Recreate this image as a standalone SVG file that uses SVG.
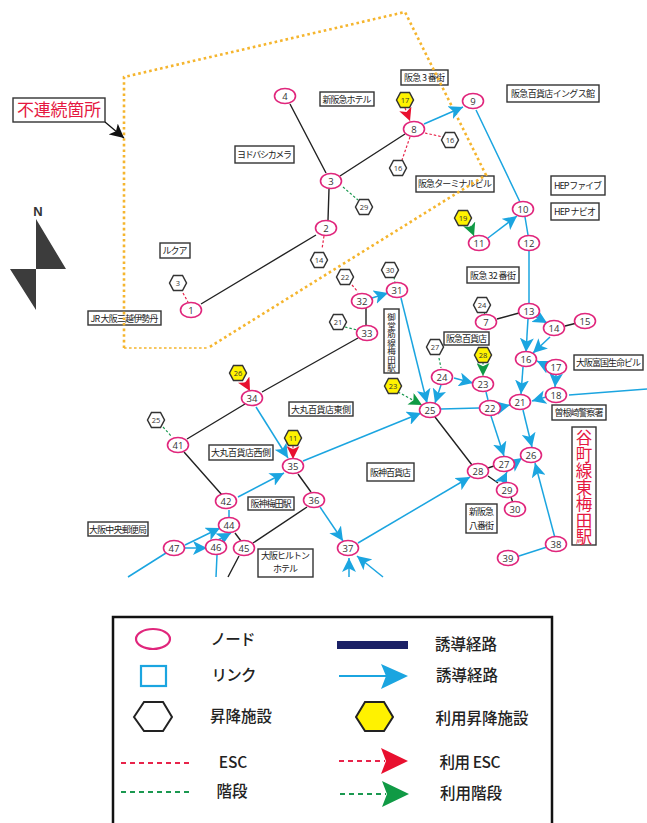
<svg xmlns="http://www.w3.org/2000/svg" width="647" height="823" viewBox="0 0 647 823">
<style>
text{font-family:"Noto Sans CJK JP","Noto Sans",sans-serif;fill:#222}
.box{fill:#fff;stroke:#333;stroke-width:1.4}
.lb{font-size:9px;text-anchor:middle}
.n{fill:#fff;stroke:#e0267c;stroke-width:1.6}
.nt{font-family:"Open Sans","Liberation Sans",sans-serif;font-size:9.5px;text-anchor:middle;fill:#333}
.h{fill:#fff;stroke:#333;stroke-width:1.5}
.hy{fill:#fff200;stroke:#333;stroke-width:1.5}
.ht{font-family:"Open Sans","Liberation Sans",sans-serif;font-size:7.5px;text-anchor:middle;fill:#333}
.k{stroke:#222;stroke-width:1.4;fill:none}
.b{stroke:#1ba5e0;stroke-width:1.5;fill:none}
.ba{stroke:#1ba5e0;stroke-width:1.5;fill:none;marker-end:url(#ab)}
.r{stroke:#e8234a;stroke-width:1.2;stroke-dasharray:2.5 2;fill:none}
.g{stroke:#1a9850;stroke-width:1.2;stroke-dasharray:2.5 2;fill:none}
.ra{stroke:#e8234a;stroke-width:1.2;stroke-dasharray:2.5 2;fill:none;marker-end:url(#ar)}
.ga{stroke:#1a9850;stroke-width:1.2;stroke-dasharray:2.5 2;fill:none;marker-end:url(#ag)}
.lt{font-size:15.500px;font-weight:500;text-anchor:middle;fill:#222}
</style>
<defs>
<marker id="ab" viewBox="0 0 12 12" markerUnits="userSpaceOnUse" markerWidth="14" markerHeight="14" refX="12" refY="6" orient="auto"><path d="M0 0L12 6L0 12L3 6z" fill="#1ba5e0"/></marker>
<marker id="ar" viewBox="0 0 12 12" markerUnits="userSpaceOnUse" markerWidth="13" markerHeight="13" refX="12" refY="6" orient="auto"><path d="M0 0L12 6L0 12L3 6z" fill="#e8102f"/></marker>
<marker id="ag" viewBox="0 0 12 12" markerUnits="userSpaceOnUse" markerWidth="13" markerHeight="13" refX="12" refY="6" orient="auto"><path d="M0 0L12 6L0 12L3 6z" fill="#109a45"/></marker>
<marker id="ak" viewBox="0 0 12 12" markerUnits="userSpaceOnUse" markerWidth="14" markerHeight="14" refX="12" refY="6" orient="auto"><path d="M0 0L12 6L0 12L3 6z" fill="#111"/></marker>
<polygon id="hx" points="-8.5,0 -4.5,-7.5 4.5,-7.5 8.5,0 4.5,7.5 -4.5,7.5"/>
</defs>

<g id="labels">
<g id="l-shinhankyu-hotel"><rect class="box" x="320" y="92" width="54" height="14"/><text class="lb" x="347" y="102.500" textLength="49">新阪急ホテル</text></g>
<g id="l-hankyu3"><rect class="box" x="401" y="70" width="47" height="15"/><text class="lb" x="424.500" y="80.500" textLength="41">阪急 3 番街</text></g>
<g id="l-ings"><rect class="box" x="507" y="85" width="92" height="17"/><text class="lb" x="553" y="96.500" textLength="84">阪急百貨店イングス館</text></g>
<g id="l-yodobashi"><rect class="box" x="235" y="146" width="59" height="17"/><text class="lb" x="264.500" y="157.500" textLength="55">ヨドバシカメラ</text></g>
<g id="l-terminal"><rect class="box" x="416" y="176" width="78" height="16"/><text class="lb" x="455" y="187" textLength="74">阪急ターミナルビル</text></g>
<g id="l-hepfive"><rect class="box" x="551" y="176" width="54" height="19"/><text class="lb" x="578" y="189" textLength="48">HEP ファイブ</text></g>
<g id="l-hepnavio"><rect class="box" x="551" y="203" width="48" height="17"/><text class="lb" x="575" y="214.500" textLength="42">HEP ナビオ</text></g>
<g id="l-lucua"><rect class="box" x="160" y="243" width="30" height="15"/><text class="lb" x="175" y="254" textLength="25">ルクア</text></g>
<g id="l-hankyu32"><rect class="box" x="467" y="267" width="52" height="16"/><text class="lb" x="493" y="278.500" textLength="46">阪急 32 番街</text></g>
<g id="l-jr"><rect class="box" x="88" y="311" width="73" height="14"/><text class="lb" x="124.500" y="321.500" textLength="68">JR 大阪三越伊勢丹</text></g>
<g id="l-midosuji"><rect class="box" x="384" y="309" width="15" height="64"/><text class="lb" x="391.500 391.500 391.500 391.500 391.500 391.500 391.500" y="320 328.600 337.200 345.800 354.400 363 371" style="font-size:8.500px">御堂筋線梅田駅</text></g>
<g id="l-hankyudept"><rect class="box" x="444" y="332" width="45" height="13"/><text class="lb" x="466.500" y="342" textLength="41">阪急百貨店</text></g>
<g id="l-fukoku"><rect class="box" x="574" y="355" width="69" height="15"/><text class="lb" x="608.500" y="366" textLength="65">大阪富国生命ビル</text></g>
<g id="l-sonezaki"><rect class="box" x="552" y="405" width="54" height="15"/><text class="lb" x="579" y="416" textLength="49">曽根崎警察署</text></g>
<g id="l-tanimachi"><rect class="box" x="572" y="427" width="24" height="118"/><text x="584 584 584 584 584 584 584" y="444 460.500 477 493.500 510 526.500 543" style="font-size:16.500px;text-anchor:middle;fill:#e5173f">谷町線東梅田駅</text></g>
<g id="l-daimaru-e"><rect class="box" x="289" y="402" width="64" height="14"/><text class="lb" x="321" y="412.500" textLength="60">大丸百貨店東側</text></g>
<g id="l-hanshin"><rect class="box" x="367" y="463" width="47" height="18"/><text class="lb" x="390.500" y="475.500" textLength="41">阪神百貨店</text></g>
<g id="l-shinhankyu8"><rect class="box" x="466" y="504" width="31" height="29"/><text class="lb" x="481.500" y="514.500" textLength="25">新阪急</text><text class="lb" x="481.500" y="528.500" textLength="25">八番街</text></g>
<g id="l-daimaru-w"><rect class="box" x="209" y="445" width="64" height="15"/><text class="lb" x="241" y="456" textLength="60">大丸百貨店西側</text></g>
<g id="l-hanshinumeda"><rect class="box" x="248" y="497" width="46" height="13"/><text class="lb" x="271" y="507" textLength="41">阪神梅田駅</text></g>
<g id="l-post"><rect class="box" x="88" y="522" width="60" height="14"/><text class="lb" x="118" y="532.500" textLength="58">大阪中央郵便局</text></g>
<g id="l-hilton"><rect class="box" x="258" y="549" width="55" height="28"/><text class="lb" x="285.500" y="558.500" textLength="49">大阪ヒルトン</text><text class="lb" x="285.500" y="572" textLength="25">ホテル</text></g>
</g>

<g id="discontinuity">
<path d="M124 348V77L405 12L486 175L208 348" fill="none" stroke="#f5b52e" stroke-width="2.600" stroke-dasharray="2.600 3"/>
<path d="M124 348H208" fill="none" stroke="#f5b52e" stroke-width="1.500" stroke-dasharray="2.600 2.400"/>
</g>
<g id="callout">
<rect class="box" x="13" y="98" width="92" height="24"/>
<text x="59" y="116" style="font-size:17px;text-anchor:middle;fill:#e5173f" textLength="84">不連続箇所</text>
<line x1="105" y1="122" x2="124" y2="138" stroke="#111" stroke-width="1.200" marker-end="url(#ak)"/>
</g>
<g id="north">
<text x="38" y="216" style="font-family:'Liberation Sans',sans-serif;font-size:13px;font-weight:bold;text-anchor:middle;fill:#333">N</text>
<path d="M36 219L66 269H36zM10 269H36V310z" fill="#3c3c3c"/>
</g>

<g id="connectors">
<path class="k" d="M201 304L316 235M328 220L329 189M326 173L290 104M340 176L405 134M497 319L519 313M577 323L565 326M366 308V327M358 338L262 392M245 404L187 439M184 452L222 495M235 533L241 541M239 556L228 577M253 543L307 507M298 474L311 492M435 417L472 465M488 468L494 466M488 476L498 483M511 497L513 503"/>
<path class="b" d="M476 110L520 202M525 217L528 235M529 251V303M569 395L647 389M486 392L488 400M441 409L479 408M519 556L547 547M229 510V518M128 577L166 553M217 555L216 577"/>
<g>
<line class="ba" x1="424" y1="124" x2="463" y2="107"/>
<line class="ba" x1="488" y1="238" x2="517" y2="216"/>
<line class="ba" x1="535" y1="316" x2="547" y2="323"/>
<line class="ba" x1="550" y1="337" x2="533" y2="353"/>
<line class="ba" x1="528" y1="319" x2="526" y2="352"/>
<line class="ba" x1="547" y1="366" x2="537" y2="361"/>
<line class="ba" x1="556" y1="375" x2="555" y2="387"/>
<line class="ba" x1="546" y1="397" x2="532" y2="401"/>
<line class="ba" x1="523" y1="367" x2="521" y2="394"/>
<line class="ba" x1="523" y1="410" x2="532" y2="447"/>
<line class="ba" x1="501" y1="407" x2="510" y2="405"/>
<line class="ba" x1="491" y1="416" x2="504" y2="456"/>
<line class="ba" x1="454" y1="378" x2="473" y2="383"/>
<line class="ba" x1="441" y1="385" x2="435" y2="403"/>
<line class="ba" x1="401" y1="298" x2="427" y2="403"/>
<line class="ba" x1="372" y1="298" x2="388" y2="293"/>
<line class="ba" x1="515" y1="463" x2="522" y2="458"/>
<line class="ba" x1="502" y1="482" x2="507" y2="472"/>
<line class="ba" x1="555" y1="538" x2="535" y2="463"/>
<line class="ba" x1="358" y1="543" x2="470" y2="477"/>
<line class="ba" x1="303" y1="461" x2="421" y2="413"/>
<line class="ba" x1="256" y1="407" x2="288" y2="458"/>
<line class="ba" x1="238" y1="497" x2="284" y2="473"/>
<line class="ba" x1="218" y1="540" x2="231" y2="533"/>
<line class="ba" x1="185" y1="545" x2="220" y2="528"/>
<line class="ba" x1="185" y1="548" x2="207" y2="548"/>
<line class="ba" x1="320" y1="507" x2="343" y2="541"/>
<line class="ba" x1="349" y1="577" x2="349" y2="558"/>
<line class="ba" x1="383" y1="577" x2="357" y2="556"/>
</g>
<path class="r" d="M183 293L188 302M324 236L322 249M410 137L402 160M425 133L443 137M352 285L358 292"/>
<path class="g" d="M343 187L358 200M394 277L395 283M345 327L357 330M484 312L485 315M439 358L441 368M163 427L172 437"/>
<line class="ra" x1="405" y1="108" x2="410" y2="121"/>
<line class="ra" x1="293" y1="446" x2="293" y2="459"/>
<line class="ra" x1="245" y1="382" x2="250" y2="391"/>
<line class="ga" x1="470" y1="226" x2="474" y2="236"/>
<line class="ga" x1="483" y1="362" x2="483" y2="376"/>
<line class="ga" x1="398" y1="392" x2="422" y2="405"/>
</g>

<g id="nodes">
<g id="n1"><ellipse class="n" cx="191" cy="310" rx="10.500" ry="7.500"/><text class="nt" x="191" y="313.500">1</text></g>
<g id="n2"><ellipse class="n" cx="326" cy="228" rx="10.500" ry="7.500"/><text class="nt" x="326" y="231.500">2</text></g>
<g id="n3"><ellipse class="n" cx="331" cy="181" rx="10.500" ry="7.500"/><text class="nt" x="331" y="184.500">3</text></g>
<g id="n4"><ellipse class="n" cx="285" cy="96" rx="10.500" ry="7.500"/><text class="nt" x="285" y="99.500">4</text></g>
<g id="n7"><ellipse class="n" cx="486" cy="322" rx="10.500" ry="7.500"/><text class="nt" x="486" y="325.500">7</text></g>
<g id="n8"><ellipse class="n" cx="414" cy="129" rx="10.500" ry="7.500"/><text class="nt" x="414" y="132.500">8</text></g>
<g id="n9"><ellipse class="n" cx="473" cy="101" rx="10.500" ry="7.500"/><text class="nt" x="473" y="104.500">9</text></g>
<g id="n10"><ellipse class="n" cx="523" cy="209" rx="10.500" ry="7.500"/><text class="nt" x="523" y="212.500">10</text></g>
<g id="n11"><ellipse class="n" cx="479" cy="243" rx="10.500" ry="7.500"/><text class="nt" x="479" y="246.500">11</text></g>
<g id="n12"><ellipse class="n" cx="529" cy="243" rx="10.500" ry="7.500"/><text class="nt" x="529" y="246.500">12</text></g>
<g id="n13"><ellipse class="n" cx="529" cy="311" rx="10.500" ry="7.500"/><text class="nt" x="529" y="314.500">13</text></g>
<g id="n14"><ellipse class="n" cx="554" cy="328" rx="10.500" ry="7.500"/><text class="nt" x="554" y="331.500">14</text></g>
<g id="n15"><ellipse class="n" cx="585" cy="321" rx="10.500" ry="7.500"/><text class="nt" x="585" y="324.500">15</text></g>
<g id="n16"><ellipse class="n" cx="526" cy="359" rx="10.500" ry="7.500"/><text class="nt" x="526" y="362.500">16</text></g>
<g id="n17"><ellipse class="n" cx="556" cy="367" rx="10.500" ry="7.500"/><text class="nt" x="556" y="370.500">17</text></g>
<g id="n18"><ellipse class="n" cx="556" cy="395" rx="10.500" ry="7.500"/><text class="nt" x="556" y="398.500">18</text></g>
<g id="n21"><ellipse class="n" cx="520" cy="402" rx="10.500" ry="7.500"/><text class="nt" x="520" y="405.500">21</text></g>
<g id="n22"><ellipse class="n" cx="490" cy="408" rx="10.500" ry="7.500"/><text class="nt" x="490" y="411.500">22</text></g>
<g id="n23"><ellipse class="n" cx="483" cy="384" rx="10.500" ry="7.500"/><text class="nt" x="483" y="387.500">23</text></g>
<g id="n24"><ellipse class="n" cx="442" cy="377" rx="10.500" ry="7.500"/><text class="nt" x="442" y="380.500">24</text></g>
<g id="n25"><ellipse class="n" cx="430" cy="410" rx="10.500" ry="7.500"/><text class="nt" x="430" y="413.500">25</text></g>
<g id="n26"><ellipse class="n" cx="531" cy="455" rx="10.500" ry="7.500"/><text class="nt" x="531" y="458.500">26</text></g>
<g id="n27"><ellipse class="n" cx="504" cy="464" rx="10.500" ry="7.500"/><text class="nt" x="504" y="467.500">27</text></g>
<g id="n28"><ellipse class="n" cx="478" cy="471" rx="10.500" ry="7.500"/><text class="nt" x="478" y="474.500">28</text></g>
<g id="n29"><ellipse class="n" cx="507" cy="490" rx="10.500" ry="7.500"/><text class="nt" x="507" y="493.500">29</text></g>
<g id="n30"><ellipse class="n" cx="515" cy="509" rx="10.500" ry="7.500"/><text class="nt" x="515" y="512.500">30</text></g>
<g id="n31"><ellipse class="n" cx="397" cy="290" rx="10.500" ry="7.500"/><text class="nt" x="397" y="293.500">31</text></g>
<g id="n32"><ellipse class="n" cx="362" cy="301" rx="10.500" ry="7.500"/><text class="nt" x="362" y="304.500">32</text></g>
<g id="n33"><ellipse class="n" cx="367" cy="333" rx="10.500" ry="7.500"/><text class="nt" x="367" y="336.500">33</text></g>
<g id="n34"><ellipse class="n" cx="252" cy="398" rx="10.500" ry="7.500"/><text class="nt" x="252" y="401.500">34</text></g>
<g id="n35"><ellipse class="n" cx="293" cy="466" rx="10.500" ry="7.500"/><text class="nt" x="293" y="469.500">35</text></g>
<g id="n36"><ellipse class="n" cx="314" cy="500" rx="10.500" ry="7.500"/><text class="nt" x="314" y="503.500">36</text></g>
<g id="n37"><ellipse class="n" cx="348" cy="548" rx="10.500" ry="7.500"/><text class="nt" x="348" y="551.500">37</text></g>
<g id="n38"><ellipse class="n" cx="556" cy="544" rx="10.500" ry="7.500"/><text class="nt" x="556" y="547.500">38</text></g>
<g id="n39"><ellipse class="n" cx="508" cy="558" rx="10.500" ry="7.500"/><text class="nt" x="508" y="561.500">39</text></g>
<g id="n41"><ellipse class="n" cx="178" cy="445" rx="10.500" ry="7.500"/><text class="nt" x="178" y="448.500">41</text></g>
<g id="n42"><ellipse class="n" cx="226" cy="501" rx="10.500" ry="7.500"/><text class="nt" x="226" y="504.500">42</text></g>
<g id="n44"><ellipse class="n" cx="229" cy="525" rx="10.500" ry="7.500"/><text class="nt" x="229" y="528.500">44</text></g>
<g id="n45"><ellipse class="n" cx="244" cy="548" rx="10.500" ry="7.500"/><text class="nt" x="244" y="551.500">45</text></g>
<g id="n46"><ellipse class="n" cx="216" cy="547" rx="10.500" ry="7.500"/><text class="nt" x="216" y="550.500">46</text></g>
<g id="n47"><ellipse class="n" cx="174" cy="548" rx="10.500" ry="7.500"/><text class="nt" x="174" y="551.500">47</text></g>
</g>

<g id="facilities">
<g id="h3"><use href="#hx" class="h" x="178" y="283"/><text class="ht" x="178" y="286">3</text></g>
<g id="h14"><use href="#hx" class="h" x="319" y="260"/><text class="ht" x="319" y="263">14</text></g>
<g id="h29"><use href="#hx" class="h" x="364" y="207"/><text class="ht" x="364" y="210">29</text></g>
<g id="h16a"><use href="#hx" class="h" x="398" y="168"/><text class="ht" x="398" y="171">16</text></g>
<g id="h16b"><use href="#hx" class="h" x="450" y="140"/><text class="ht" x="450" y="143">16</text></g>
<g id="h17"><use href="#hx" class="hy" x="405" y="100"/><text class="ht" x="405" y="103">17</text></g>
<g id="h19"><use href="#hx" class="hy" x="463" y="218"/><text class="ht" x="463" y="221">19</text></g>
<g id="h22"><use href="#hx" class="h" x="345" y="277"/><text class="ht" x="345" y="280">22</text></g>
<g id="h30"><use href="#hx" class="h" x="390" y="270"/><text class="ht" x="390" y="273">30</text></g>
<g id="h21"><use href="#hx" class="h" x="338" y="322"/><text class="ht" x="338" y="325">21</text></g>
<g id="h24"><use href="#hx" class="h" x="482" y="305"/><text class="ht" x="482" y="308">24</text></g>
<g id="h27"><use href="#hx" class="h" x="435" y="347"/><text class="ht" x="435" y="350">27</text></g>
<g id="h28"><use href="#hx" class="hy" x="483" y="355"/><text class="ht" x="483" y="358">28</text></g>
<g id="h23"><use href="#hx" class="hy" x="393" y="386"/><text class="ht" x="393" y="389">23</text></g>
<g id="h26"><use href="#hx" class="hy" x="238" y="373"/><text class="ht" x="238" y="376">26</text></g>
<g id="h11"><use href="#hx" class="hy" x="293" y="438"/><text class="ht" x="293" y="441">11</text></g>
<g id="h25"><use href="#hx" class="h" x="156" y="420"/><text class="ht" x="156" y="423">25</text></g>
</g>

<g id="legend">
<path d="M113 823V617H552V823" fill="none" stroke="#111" stroke-width="2.500"/>
<ellipse cx="153" cy="639" rx="17" ry="10" fill="#fff" stroke="#e0267c" stroke-width="2.200"/>
<rect x="141" y="666" width="25" height="20" fill="#fff" stroke="#1ba5e0" stroke-width="2.200"/>
<polygon points="134,717 144,702 163,702 172,717 163,731 144,731" fill="#fff" stroke="#222" stroke-width="2"/>
<polygon points="356,717 365,702 384,702 393,717 384,731 365,731" fill="#fff200" stroke="#222" stroke-width="2"/>
<rect x="337" y="641" width="71" height="8" fill="#1b2166"/>
<line x1="339" y1="676" x2="388" y2="676" stroke="#1ba5e0" stroke-width="1.800"/>
<path d="M381 664L408 676L381 689L386 676z" fill="#1ba5e0"/>
<line x1="121" y1="763" x2="191" y2="763" stroke="#e8234a" stroke-width="2" stroke-dasharray="5 4"/>
<line x1="121" y1="792" x2="191" y2="792" stroke="#1a9850" stroke-width="2" stroke-dasharray="5 4"/>
<line x1="339" y1="761" x2="385" y2="761" stroke="#e8234a" stroke-width="2" stroke-dasharray="5 4"/>
<path d="M381 748L408 761L381 774L386 761z" fill="#e8102f"/>
<line x1="340" y1="794" x2="386" y2="794" stroke="#1a9850" stroke-width="2" stroke-dasharray="5 4"/>
<path d="M382 781L409 794L382 807L387 794z" fill="#109a45"/>
<text class="lt" x="233" y="645" textLength="45">ノード</text>
<text class="lt" x="234" y="681" textLength="45">リンク</text>
<text class="lt" x="241" y="722" textLength="62">昇降施設</text>
<text class="lt" x="233" y="768">ESC</text>
<text class="lt" x="232" y="797" textLength="31">階段</text>
<text class="lt" x="466" y="650" textLength="62">誘導経路</text>
<text class="lt" x="467" y="681" textLength="62">誘導経路</text>
<text class="lt" x="482" y="724" textLength="93">利用昇降施設</text>
<text class="lt" x="470" y="768" textLength="61">利用 ESC</text>
<text class="lt" x="471" y="799" textLength="62">利用階段</text>
</g>
</svg>
